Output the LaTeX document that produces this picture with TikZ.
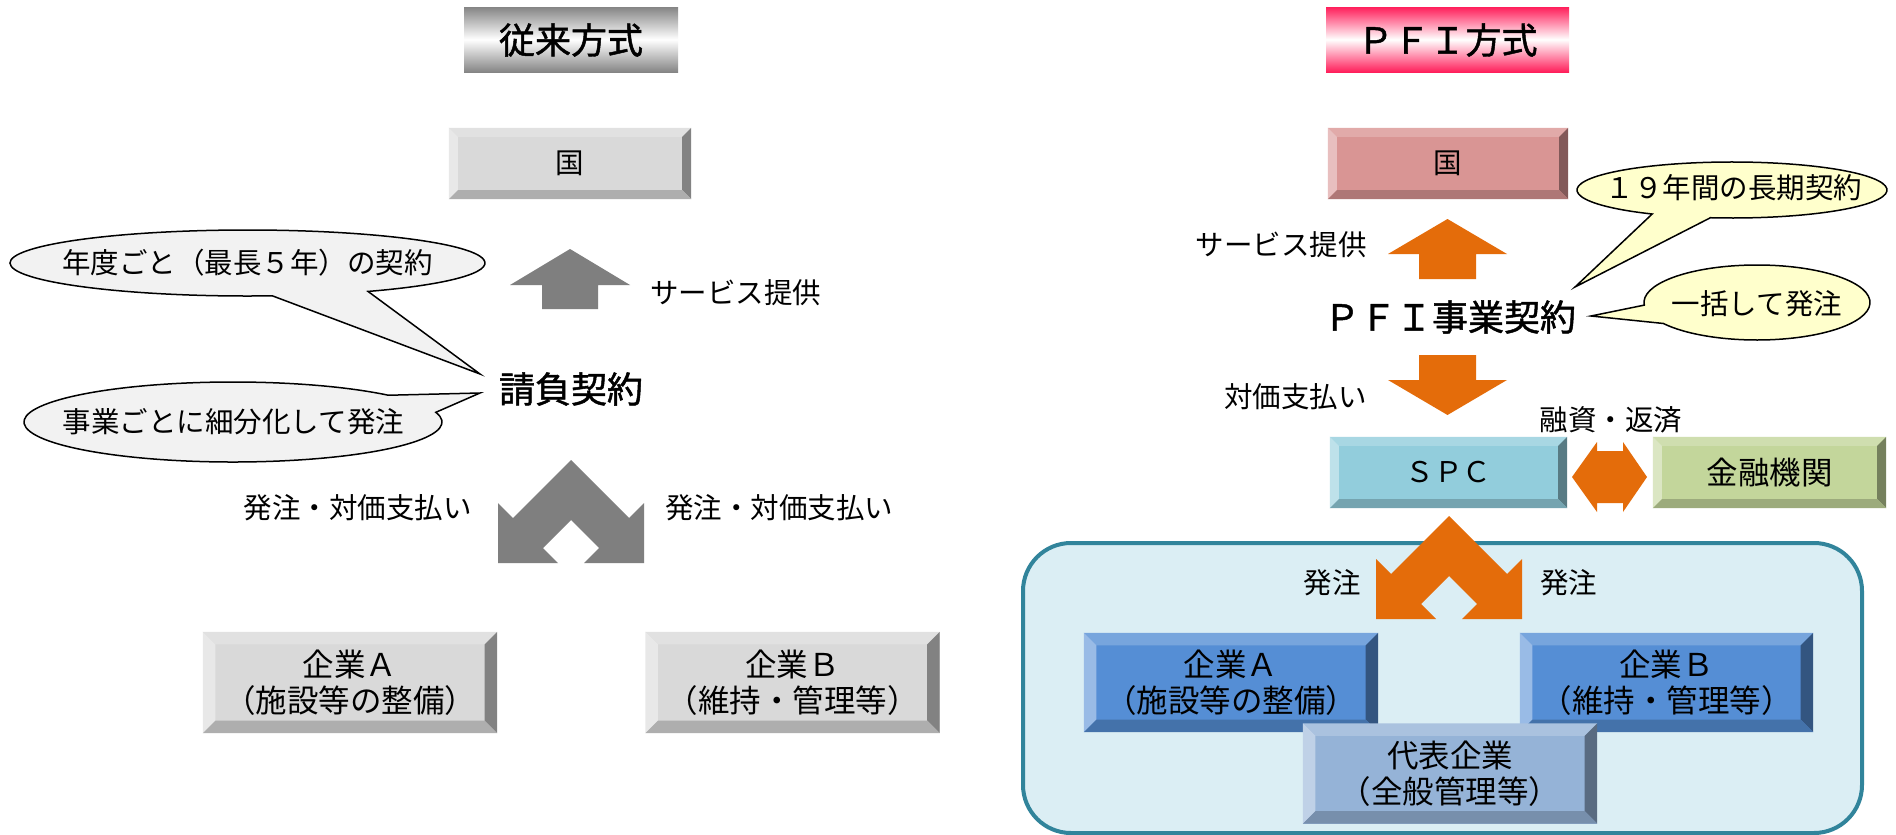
\documentclass[tikz,border=0pt]{standalone}
\usepackage{fontspec}
\setmainfont{Noto Sans CJK JP}
\newfontfamily\medfont{Noto Sans CJK JP}[FakeBold=1.3]
\definecolor{GrFace}{HTML}{D9D9D9}
\definecolor{GrTop}{HTML}{E1E1E1}
\definecolor{GrLeft}{HTML}{E8E8E8}
\definecolor{GrRight}{HTML}{828282}
\definecolor{GrBot}{HTML}{AEAEAE}
\definecolor{PkFace}{HTML}{D99594}
\definecolor{PkTop}{HTML}{E1AAA9}
\definecolor{PkLeft}{HTML}{E8BFBF}
\definecolor{PkRight}{HTML}{825959}
\definecolor{PkBot}{HTML}{AE7776}
\definecolor{SpFace}{HTML}{92CDDC}
\definecolor{SpTop}{HTML}{A8D7E3}
\definecolor{SpLeft}{HTML}{BEE1EA}
\definecolor{SpRight}{HTML}{587B84}
\definecolor{SpBot}{HTML}{75A4B0}
\definecolor{KnFace}{HTML}{C3D69B}
\definecolor{KnTop}{HTML}{CFDEAF}
\definecolor{KnLeft}{HTML}{DBE6C3}
\definecolor{KnRight}{HTML}{75805D}
\definecolor{KnBot}{HTML}{9CAB7C}
\definecolor{BlFace}{HTML}{558ED5}
\definecolor{BlTop}{HTML}{77A5DD}
\definecolor{BlLeft}{HTML}{99BBE6}
\definecolor{BlRight}{HTML}{335580}
\definecolor{BlBot}{HTML}{4472AA}
\definecolor{DhFace}{HTML}{95B3D7}
\definecolor{DhTop}{HTML}{AAC2DF}
\definecolor{DhLeft}{HTML}{BFD1E7}
\definecolor{DhRight}{HTML}{596B81}
\definecolor{DhBot}{HTML}{778FAC}
\definecolor{Orng}{HTML}{E46C0A}
\definecolor{GrArrow}{HTML}{7F7F7F}
\definecolor{CtFill}{HTML}{DBEEF4}
\definecolor{CtLine}{HTML}{31849B}
\definecolor{CoGray}{HTML}{F2F2F2}
\definecolor{CoYel}{HTML}{FFFFCC}
\definecolor{TtGray}{HTML}{858585}
\definecolor{TtPink}{HTML}{FF1F5B}
\newcommand\bevelframe[6]{%
 \fill[#3] (#1.north west) -- (#1.north east) -- ([xshift=-#2pt,yshift=-#2pt]#1.north east) -- ([xshift=#2pt,yshift=-#2pt]#1.north west) -- cycle;
 \fill[#4] (#1.north west) -- ([xshift=#2pt,yshift=-#2pt]#1.north west) -- ([xshift=#2pt,yshift=#2pt]#1.south west) -- (#1.south west) -- cycle;
 \fill[#5] (#1.north east) -- (#1.south east) -- ([xshift=-#2pt,yshift=#2pt]#1.south east) -- ([xshift=-#2pt,yshift=-#2pt]#1.north east) -- cycle;
 \fill[#6] (#1.south west) -- ([xshift=#2pt,yshift=#2pt]#1.south west) -- ([xshift=-#2pt,yshift=#2pt]#1.south east) -- (#1.south east) -- cycle;
}
\tikzset{
 lbl/.style={font=\fontsize{28.5}{34}\selectfont, inner sep=0pt},
 big/.style={font=\medfont\fontsize{36}{40}\selectfont, inner sep=0pt},
 ttl/.style={font=\medfont\fontsize{36}{40}\selectfont, inner sep=0pt},
 bbox/.style={inner sep=0pt, align=center, font=\fontsize{31.5}{36}\selectfont},
 sbox/.style={inner sep=0pt, align=center, font=\fontsize{28.5}{34}\selectfont},
 callout/.style={draw=black, line width=1.5pt, line join=miter},
}
\begin{document}
\begin{tikzpicture}[x=1pt,y=-1pt]
\useasboundingbox[fill=white] (0,0) rectangle (1896,835);
% ---------- titles
\shade[top color=TtGray, bottom color=TtGray, middle color=white] (464,7) rectangle (678,72);
\node[ttl] (title1) at (571,40) {従来方式};
\shade[top color=TtPink, bottom color=TtPink, middle color=white] (1326,7) rectangle (1569,72);
\node[ttl] (title2) at (1447.5,40) {ＰＦＩ方式};
% ---------- left side
\node[sbox, fill=GrFace, minimum width=242pt, minimum height=71pt] (kuniL) at (570,163.5) {国};
\bevelframe{kuniL}{9}{GrTop}{GrLeft}{GrRight}{GrBot}
\fill[GrArrow] (570,249) -- (630,285) -- (598,285) -- (598,309) -- (542,309) -- (542,285) -- (510,285) -- cycle;
\node[lbl, anchor=west] (svcL) at (650,293) {サービス提供};
\filldraw[callout, fill=CoGray] (247.5,263) ++(84:237.5 and 33) arc[start angle=84, end angle=419.5, x radius=237.5, y radius=33] -- (480,374) -- cycle;
\node[lbl] (callL1) at (247.5,263) {年度ごと（最長５年）の契約};
\filldraw[callout, fill=CoGray] (233,422) ++(-14:209 and 40) arc[start angle=-14, end angle=318, x radius=209, y radius=40] -- (480,393) -- cycle;
\node[lbl] (callL2) at (233.5,422) {事業ごとに細分化して発注};
\node[big] (ukeoi) at (571,389) {請負契約};
\fill[GrArrow, shift={(571,460)}] (0,0) -- (-58,58) -- (-73,43) -- (-73,103) -- (-13,103) -- (-28,88) -- (0,60) -- (28,88) -- (13,103) -- (73,103) -- (73,43) -- (58,58) -- cycle;
\node[lbl, anchor=east] (payL1) at (472,508) {発注・対価支払い};
\node[lbl, anchor=west] (payL2) at (665,508) {発注・対価支払い};
\node[bbox, fill=GrFace, minimum width=294pt, minimum height=101pt] (kigyoAL) at (350,682.5) {企業Ａ\\（施設等の整備）};
\bevelframe{kigyoAL}{12.5}{GrTop}{GrLeft}{GrRight}{GrBot}
\node[bbox, fill=GrFace, minimum width=294pt, minimum height=101pt] (kigyoBL) at (792.5,682.5) {企業Ｂ\\（維持・管理等）};
\bevelframe{kigyoBL}{12.5}{GrTop}{GrLeft}{GrRight}{GrBot}
% ---------- right side
\node[sbox, fill=PkFace, minimum width=240pt, minimum height=71pt] (kuniR) at (1448,163.5) {国};
\bevelframe{kuniR}{9}{PkTop}{PkLeft}{PkRight}{PkBot}
\fill[Orng] (1447.5,219) -- (1507,254) -- (1476,254) -- (1476,279) -- (1419,279) -- (1419,254) -- (1388,254) -- cycle;
\node[lbl, anchor=east] (svcR) at (1367,245) {サービス提供};
\filldraw[callout, fill=CoYel] (1732,190) ++(121:155 and 28) arc[start angle=121, end angle=458, x radius=155, y radius=28] -- (1575,287) -- cycle;
\node[lbl] (callR1) at (1734,188) {１９年間の長期契約};
\filldraw[callout, fill=CoYel] (1757,302.5) ++(176:113 and 37.5) arc[start angle=176, end angle=506, x radius=113, y radius=37.5] -- (1591,316) -- cycle;
\node[lbl] (callR2) at (1757,304) {一括して発注};
\node[big] (pfi) at (1450,317) {ＰＦＩ事業契約};
\fill[Orng] (1447.5,415) -- (1507,380) -- (1476,380) -- (1476,355) -- (1419,355) -- (1419,380) -- (1388,380) -- cycle;
\node[lbl, anchor=east] (payR) at (1367,397) {対価支払い};
\node[lbl] (loan) at (1611,420) {融資・返済};
\node[sbox, fill=SpFace, minimum width=237pt, minimum height=71pt] (spc) at (1448.5,472.5) {ＳＰＣ};
\bevelframe{spc}{9}{SpTop}{SpLeft}{SpRight}{SpBot}
\node[bbox, fill=KnFace, minimum width=233pt, minimum height=71pt] (bank) at (1769.5,472.5) {金融機関};
\bevelframe{bank}{9}{KnTop}{KnLeft}{KnRight}{KnBot}
\fill[Orng] (1572,477) -- (1597,442) -- (1597,451) -- (1623,451) -- (1623,442) -- (1647,477) -- (1623,512) -- (1623,503) -- (1597,503) -- (1597,512) -- cycle;
\draw[line width=4pt, draw=CtLine, fill=CtFill, rounded corners=48pt] (1023,543) rectangle (1862,833);
\fill[Orng, shift={(1449,516)}] (0,0) -- (-58,58) -- (-73,43) -- (-73,103) -- (-13,103) -- (-28,88) -- (0,60) -- (28,88) -- (13,103) -- (73,103) -- (73,43) -- (58,58) -- cycle;
\node[lbl, anchor=east] (ordA) at (1361,583) {発注};
\node[lbl, anchor=west] (ordB) at (1540,583) {発注};
\node[bbox, fill=BlFace, minimum width=294pt, minimum height=99pt] (kigyoAR) at (1231,682.5) {企業Ａ\\（施設等の整備）};
\bevelframe{kigyoAR}{12.5}{BlTop}{BlLeft}{BlRight}{BlBot}
\node[bbox, fill=BlFace, minimum width=293pt, minimum height=99pt] (kigyoBR) at (1666.5,682.5) {企業Ｂ\\（維持・管理等）};
\bevelframe{kigyoBR}{12.5}{BlTop}{BlLeft}{BlRight}{BlBot}
\node[bbox, fill=DhFace, minimum width=294pt, minimum height=100pt] (daihyo) at (1450,773.5) {代表企業\\（全般管理等）};
\bevelframe{daihyo}{12.5}{DhTop}{DhLeft}{DhRight}{DhBot}
\end{tikzpicture}
\end{document}
